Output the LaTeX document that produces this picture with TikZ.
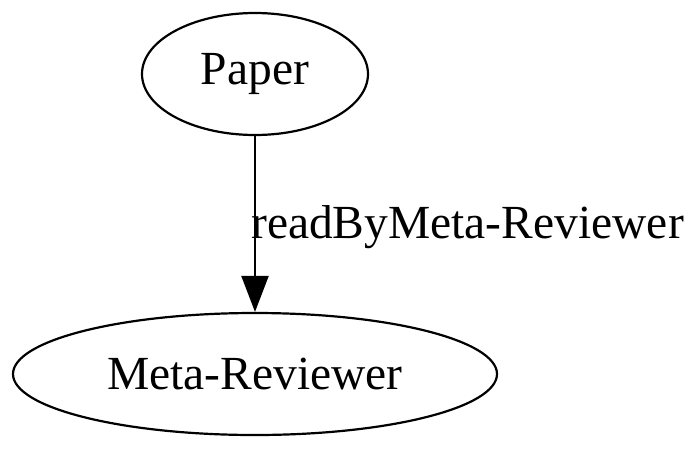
\documentclass[tikz,border=0pt]{standalone}
\usepackage{fontspec}
\setmainfont{Liberation Serif}
\usetikzlibrary{shapes.geometric, arrows.meta}
\begin{document}
\begin{tikzpicture}[
  x=1pt, y=-1pt,
  ent/.style={ellipse, draw, line width=2.2pt, inner sep=0pt, font=\fontsize{47.5}{56}\selectfont},
  lbl/.style={inner sep=0pt, font=\fontsize{47.5}{56}\selectfont},
  edge/.style={line width=2.2pt, -{Triangle[length=36pt, width=27pt]}}
]
\useasboundingbox (0, 0) rectangle (700, 450);
\node[ent, minimum width=226pt, minimum height=122pt] (paper) at (255, 74) {Paper};
\node[ent, minimum width=484pt, minimum height=122pt] (meta) at (255, 374) {Meta-Reviewer};
\draw[edge] (paper) -- (meta);
\node[lbl, anchor=base west] (rbm) at (251, 238) {readByMeta-Reviewer};
\end{tikzpicture}
\end{document}
